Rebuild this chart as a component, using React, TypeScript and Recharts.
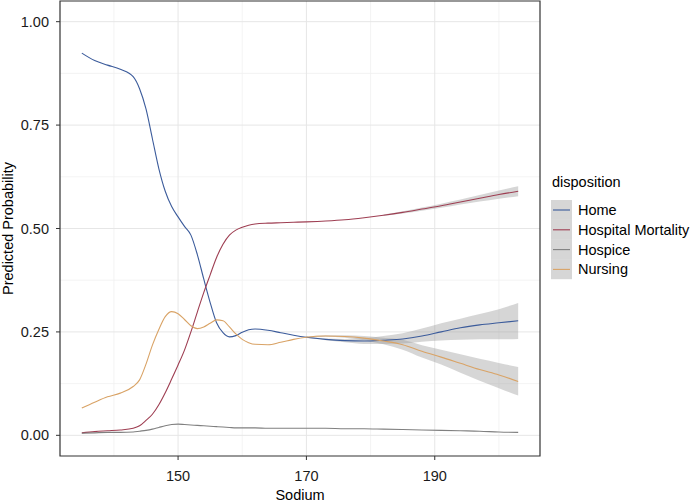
import { ComposedChart, Line, Area, XAxis, YAxis, CartesianGrid, ReferenceArea, Legend } from 'recharts'

const sodium = [135, 137, 139, 141, 143, 144, 145, 146, 147, 148, 149, 150, 151, 152, 153, 154, 155, 156, 157, 158, 159, 160, 161, 162, 164, 166, 168, 170, 173, 176, 179, 182, 185, 188, 191, 194, 197, 200, 203]

const homeFit = [0.924, 0.906, 0.895, 0.885, 0.867, 0.838, 0.789, 0.717, 0.645, 0.59, 0.553, 0.528, 0.505, 0.484, 0.437, 0.378, 0.321, 0.272, 0.248, 0.238, 0.241, 0.249, 0.255, 0.257, 0.254, 0.248, 0.242, 0.237, 0.232, 0.229, 0.228, 0.23, 0.233, 0.24, 0.25, 0.26, 0.267, 0.272, 0.277]
const mortalityFit = [0.006, 0.009, 0.011, 0.013, 0.017, 0.023, 0.036, 0.051, 0.074, 0.103, 0.136, 0.17, 0.206, 0.25, 0.298, 0.345, 0.388, 0.43, 0.462, 0.484, 0.496, 0.503, 0.508, 0.511, 0.513, 0.514, 0.515, 0.516, 0.518, 0.521, 0.526, 0.532, 0.539, 0.547, 0.555, 0.564, 0.573, 0.582, 0.59]
const hospiceFit = [0.005, 0.006, 0.007, 0.007, 0.008, 0.01, 0.012, 0.015, 0.019, 0.023, 0.026, 0.027, 0.026, 0.025, 0.024, 0.023, 0.022, 0.021, 0.02, 0.019, 0.018, 0.018, 0.018, 0.018, 0.017, 0.017, 0.017, 0.017, 0.017, 0.016, 0.016, 0.015, 0.014, 0.013, 0.012, 0.011, 0.01, 0.008, 0.007]
const nursingFit = [0.066, 0.08, 0.093, 0.102, 0.118, 0.134, 0.172, 0.218, 0.256, 0.287, 0.299, 0.294, 0.28, 0.265, 0.258, 0.262, 0.271, 0.279, 0.277, 0.262, 0.245, 0.232, 0.224, 0.22, 0.219, 0.225, 0.232, 0.237, 0.24, 0.239, 0.235, 0.228, 0.219, 0.203, 0.189, 0.174, 0.159, 0.146, 0.13]

// confidence ribbons, only where they are wide enough to see (from 170 on)
const N = null
const homeLow = [N, N, N, N, N, N, N, N, N, N, N, N, N, N, N, N, N, N, N, N, N, N, N, N, N, N, N, 0.235, 0.23, 0.225, 0.221, 0.221, 0.222, 0.226, 0.229, 0.231, 0.232, 0.232, 0.233]
const homeHigh = [N, N, N, N, N, N, N, N, N, N, N, N, N, N, N, N, N, N, N, N, N, N, N, N, N, N, N, 0.239, 0.234, 0.233, 0.235, 0.24, 0.247, 0.258, 0.271, 0.282, 0.293, 0.305, 0.32]
const mortalityLow = [N, N, N, N, N, N, N, N, N, N, N, N, N, N, N, N, N, N, N, N, N, N, N, N, N, N, N, N, N, N, N, 0.53, 0.536, 0.543, 0.55, 0.558, 0.565, 0.572, 0.578]
const mortalityHigh = [N, N, N, N, N, N, N, N, N, N, N, N, N, N, N, N, N, N, N, N, N, N, N, N, N, N, N, N, N, N, N, 0.534, 0.542, 0.551, 0.56, 0.57, 0.581, 0.592, 0.602]
const nursingLow = [N, N, N, N, N, N, N, N, N, N, N, N, N, N, N, N, N, N, N, N, N, N, N, N, N, N, N, 0.235, 0.238, 0.236, 0.23, 0.22, 0.207, 0.188, 0.171, 0.151, 0.132, 0.114, 0.096]
const nursingHigh = [N, N, N, N, N, N, N, N, N, N, N, N, N, N, N, N, N, N, N, N, N, N, N, N, N, N, N, 0.239, 0.242, 0.242, 0.24, 0.236, 0.231, 0.218, 0.207, 0.196, 0.185, 0.175, 0.165]

const xTicks = [150, 170, 190]
const xMinor = [140, 160, 180, 200]
const yTicks = [0, 0.25, 0.5, 0.75, 1]
const yMinor = [0.125, 0.375, 0.625, 0.875]

const dispositions = ['Home', 'Hospital Mortality', 'Hospice', 'Nursing']
const COLORS: Record<string, string> = {
  Home: '#3b5b9b',
  'Hospital Mortality': '#9e3e52',
  Hospice: '#808080',
  Nursing: '#d9a366',
}

const FONT = '"Liberation Sans", Arial, sans-serif'
const RIBBON = '#999999'

const band = (lo: (number | null)[], hi: (number | null)[], i: number) =>
  lo[i] == null || hi[i] == null ? null : [lo[i], hi[i]]

const data = sodium.map((s, i) => ({
  sodium: s,
  home: homeFit[i],
  mortality: mortalityFit[i],
  hospice: hospiceFit[i],
  nursing: nursingFit[i],
  homeBand: band(homeLow, homeHigh, i),
  mortalityBand: band(mortalityLow, mortalityHigh, i),
  nursingBand: band(nursingLow, nursingHigh, i),
}))

function DispositionLegend() {
  return (
    <svg width={151} height={120} style={{ display: 'block' }}>
      <text x={12} y={17} fontSize={14.5} fontFamily={FONT} fill="#000">disposition</text>
      {dispositions.map((name, i) => {
        const y = 40 + i * 19.8
        return (
          <g key={name}>
            <rect x={11} y={y - 10} width={21} height={19.8} fill={RIBBON} fillOpacity={0.4} />
            <line x1={13} x2={30} y1={y} y2={y} stroke={COLORS[name]} strokeWidth={1.1} />
            <text x={38} y={y + 5} fontSize={14.5} fontFamily={FONT} fill="#000">{name}</text>
          </g>
        )
      })}
    </svg>
  )
}

export default function App() {
  return (
    <div style={{ position: 'absolute', left: 0, top: 0, width: 691, height: 504, background: '#fff' }}>
      <ComposedChart width={691} height={504} data={data} margin={{ top: 1, right: 151, bottom: 0, left: 0 }}>
        <CartesianGrid horizontalValues={yMinor} verticalValues={xMinor} stroke="#f0f0f0" strokeWidth={0.8} />
        <CartesianGrid horizontalValues={yTicks} verticalValues={xTicks} stroke="#e6e6e6" strokeWidth={1} />
        <XAxis
          type="number"
          dataKey="sodium"
          domain={[131.6, 206.4]}
          ticks={xTicks}
          height={48}
          axisLine={false}
          tickLine={{ stroke: '#333333' }}
          tickSize={4}
          tickMargin={11}
          tick={{ fontSize: 14.5, fontFamily: FONT, fill: '#1a1a1a' }}
          label={({ viewBox }: any) => (
            <text x={viewBox.x + viewBox.width / 2} y={500} textAnchor="middle" fontSize={14.5} fontFamily={FONT} fill="#000">
              Sodium
            </text>
          )}
        />
        <YAxis
          type="number"
          domain={[-0.05, 1.05]}
          ticks={yTicks}
          width={60}
          axisLine={false}
          tickLine={{ stroke: '#333333' }}
          tickSize={4}
          tickMargin={7}
          tickFormatter={(v: number) => v.toFixed(2)}
          tick={{ fontSize: 14.5, fontFamily: FONT, fill: '#1a1a1a' }}
          label={({ viewBox }: any) => {
            const cy = viewBox.y + viewBox.height / 2
            return (
              <text x={13} y={cy} transform={`rotate(-90, 13, ${cy})`} textAnchor="middle" fontSize={14.5} fontFamily={FONT} fill="#000">
                Predicted Probability
              </text>
            )
          }}
        />
        <Area type="monotone" dataKey="homeBand" stroke="none" fill={RIBBON} fillOpacity={0.4} isAnimationActive={false} />
        <Area type="monotone" dataKey="mortalityBand" stroke="none" fill={RIBBON} fillOpacity={0.4} isAnimationActive={false} />
        <Area type="monotone" dataKey="nursingBand" stroke="none" fill={RIBBON} fillOpacity={0.4} isAnimationActive={false} />
        <Line type="monotone" dataKey="home" stroke={COLORS.Home} strokeWidth={1.1} dot={false} isAnimationActive={false} />
        <Line type="monotone" dataKey="mortality" stroke={COLORS['Hospital Mortality']} strokeWidth={1.1} dot={false} isAnimationActive={false} />
        <Line type="monotone" dataKey="hospice" stroke={COLORS.Hospice} strokeWidth={1.1} dot={false} isAnimationActive={false} />
        <Line type="monotone" dataKey="nursing" stroke={COLORS.Nursing} strokeWidth={1.1} dot={false} isAnimationActive={false} />
        <ReferenceArea x1={131.6} x2={206.4} y1={-0.05} y2={1.05} fill="none" stroke="#333333" strokeWidth={1.2} ifOverflow="visible" />
        <Legend
          layout="horizontal"
          verticalAlign="middle"
          align="center"
          content={() => <DispositionLegend />}
          wrapperStyle={{ left: 540, top: 170, width: 151, height: 120 }}
        />
      </ComposedChart>
    </div>
  )
}
